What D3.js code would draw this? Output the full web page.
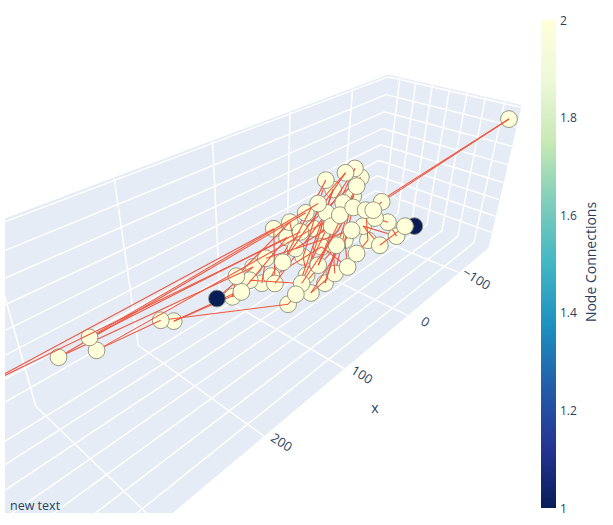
<!DOCTYPE html>
<html><head><meta charset="utf-8">
<script src="https://cdn.jsdelivr.net/npm/d3@7"></script>
<style>html,body{margin:0;padding:0;background:#fff;} svg{display:block;font-family:"Open Sans",Arial,sans-serif;}</style>
</head><body><svg id="chart" width="613" height="525"></svg>
<script>
// ---------------- data ----------------
const nodeX = [18.2,11.0,10.6,31.4,16.2,21.7,45.3,55.9,43.5,30.1,25.7,19.2,14.7,6.7,80.6,75.7,65.7,56.9,45.1,34.6,26.2,1.3,-4.3,9.8,23.0,74.5,58.3,48.9,39.8,72.8,106.2,119.5,98.5,77.2,59.7,49.8,66.8,99.0,83.1,122.0,129.0,138.9,98.4,80.8,180.1,172.6,257.5,257.7,279.3,95.6,16.4,-155,359.4,
               32.5,36.4,68.7,53.0,42.1,86.9,106.7,69.0,28.3,10.1,90.3,112.9];
const nodeY = [5.9,10.5,17.2,3.3,17.4,18.4,-1.7,-6.7,6.7,14.2,22.1,31.0,35.9,38.6,-22.1,-10.7,-3.9,3.1,14.3,28.5,34.6,61.5,67.5,59.3,51.5,-1.7,14.5,23.6,39.2,5.9,-23.0,-30.7,-8.2,14.1,31.7,37.8,18.3,-3.6,13.6,-22.4,-26.6,-36.0,11.6,22.6,-65.1,-56.5,-48.8,-41.4,-60.4,-17.6,39.6,72.5,-2.2,
               -4.4,16.0,-13.9,9.9,27.3,-5.4,-12.1,28.5,42.2,49.2,13.4,-20.8];
const nodeZ = [50.6,53.8,47.2,38.3,40.8,33.4,28.0,21.1,21.1,28.4,25.1,23.1,23.1,29.2,9.3,2.9,7.1,9.6,11.3,8.3,11.3,11.3,11.3,3.9,-2.8,-5.2,-4.0,-2.8,-8.9,-11.4,-18.8,-25.6,-25.6,-24.9,-23.6,-18.8,-17.5,-31.0,-31.0,-37.2,-40.9,-42.1,-46.3,-38.0,-58.1,-58.8,-21.2,-29.5,-33.8,-12.4,17.2,70.3,26.8,
               45.2,19.4,14.2,6.8,0.9,-15.3,-30.8,-30.8,0.9,14.2,-38.9,-28.6];
const edges = [[41,30],[30,48],[48,7],[7,32],[32,45],[45,39],[39,15],[15,46],[46,6],[6,0],[0,58],[58,53],[53,29],[29,33],[33,3],[3,63],[63,1],[1,8],[8,37],[37,14],[14,52],[52,16],[16,2],[2,56],[56,9],[9,36],[36,4],[4,60],[60,27],[27,42],[42,44],[44,47],[47,17],[17,54],[54,5],[5,34],[34,18],[18,25],[25,55],[55,31],[31,40],[40,64],[64,38],[38,10],[10,57],[57,35],[35,26],[26,59],[59,49],[49,19],[19,43],[43,28],[28,61],[61,11],[11,51],[51,13],[13,12],[12,50],[50,62],[62,23],[23,20],[20,24],[24,21],[21,22]];
const xTicks = [-100,0,100,200,300];
const yTicks = [-60,-40,-20,0,20,40,60];
const zTicks = [-60,-40,-20,0,20,40,60,80];
const xRange = [-167,390];
const yRange = [-75,76.8];
const zRange = [-80,81.9];
const colorTicks = [1,1.2,1.4,1.6,1.8,2];
const colorDomain = [1,2];
const ylgnbuStops = [0,0.125,0.25,0.375,0.5,0.625,0.75,0.875,1];
const ylgnbuColors = ["rgb(8,29,88)","rgb(37,52,148)","rgb(34,94,168)","rgb(29,145,192)","rgb(65,182,196)","rgb(127,205,187)","rgb(199,233,180)","rgb(237,248,217)","rgb(255,255,217)"];
const xTitle = "x";
const colorbarTitle = "Node Connections";
const annotationText = "new text";

// ---------------- setup ----------------
const svg = d3.select("#chart");
const textColor = "#2a3f5f";
const scene = {left:5, top:10, right:521, bottom:513};
const camera = {cx:263, cy:264, f:613, yaw:42.9, pitch:32.9, offset:[0.181,-0.0962,1], unit:0.0013};

const xS = d3.scaleLinear().domain(xRange).range([0,(xRange[1]-xRange[0])*camera.unit]);
const yS = d3.scaleLinear().domain(yRange).range([0,(yRange[1]-yRange[0])*camera.unit]);
const zS = d3.scaleLinear().domain(zRange).range([0,(zRange[1]-zRange[0])*camera.unit]);
const rad = Math.PI/180;
const sa = Math.sin(camera.yaw*rad), ca = Math.cos(camera.yaw*rad);
const sp = Math.sin(camera.pitch*rad), cp = Math.cos(camera.pitch*rad);
const e1 = [-sa, ca*sp, -ca*cp], e2 = [ca, sa*sp, -sa*cp], e3 = [0, -cp, -sp];
function project(x,y,z){
  const a = xS(x), b = yS(y), c = zS(z), o = camera.offset;
  const X = o[0]+a*e1[0]+b*e2[0]+c*e3[0];
  const Y = o[1]+a*e1[1]+b*e2[1]+c*e3[1];
  const Z = o[2]+a*e1[2]+b*e2[2]+c*e3[2];
  return [camera.cx + camera.f*X/Z, camera.cy + camera.f*Y/Z, Z];
}

const degree = nodeX.map(()=>0);
edges.forEach(([s,t])=>{degree[s]++;degree[t]++;});
const colorScale = d3.scaleLinear()
  .domain(ylgnbuStops.map(s=>colorDomain[0]+s*(colorDomain[1]-colorDomain[0])))
  .range(ylgnbuColors).interpolate(d3.interpolateRgb);

const defs = svg.append("defs");
defs.append("clipPath").attr("id","sceneClip").append("rect")
  .attr("x",scene.left).attr("y",scene.top)
  .attr("width",scene.right-scene.left).attr("height",scene.bottom-scene.top);

const g = svg.append("g").attr("clip-path","url(#sceneClip)");
const line = d3.line();

// panes
const [x0,x1] = xRange, [y0,y1] = yRange, [z0,z1] = zRange;
const panes = [
  [[x0,y0,z0],[x1,y0,z0],[x1,y0,z1],[x0,y0,z1]],
  [[x0,y0,z0],[x0,y1,z0],[x0,y1,z1],[x0,y0,z1]],
  [[x0,y0,z0],[x1,y0,z0],[x1,y1,z0],[x0,y1,z0]]
];
g.selectAll("path.pane").data(panes).join("path").attr("class","pane")
  .attr("d",p=>line(p.map(q=>project(...q).slice(0,2)))+"Z")
  .attr("fill","#E5ECF6").attr("stroke","#E5ECF6").attr("stroke-width",1);

// grid lines
const grid = [];
xTicks.forEach(v=>{ grid.push([[v,y0,z0],[v,y0,z1]]); grid.push([[v,y0,z0],[v,y1,z0]]); });
yTicks.forEach(v=>{ grid.push([[x0,v,z0],[x0,v,z1]]); grid.push([[x0,v,z0],[x1,v,z0]]); });
zTicks.forEach(v=>{ grid.push([[x0,y0,v],[x1,y0,v]]); grid.push([[x0,y0,v],[x0,y1,v]]); });
g.selectAll("path.grid").data(grid).join("path").attr("class","grid")
  .attr("d",p=>line(p.map(q=>project(...q).slice(0,2))))
  .attr("stroke","#fff").attr("stroke-width",1.5).attr("fill","none");

// nodes and edges, painter's order by depth
const nodes = nodeX.map((x,i)=>{const p=project(x,nodeY[i],nodeZ[i]);return {type:"node",i,sx:p[0],sy:p[1],depth:p[2],deg:degree[i]};});
const items = nodes.concat(edges.map(([s,t])=>({type:"edge",s:nodes[s],t:nodes[t],depth:(nodes[s].depth+nodes[t].depth)/2})));
items.sort((a,b)=>b.depth-a.depth);
const layer = g.append("g");
items.forEach(d=>{
  if(d.type==="edge"){
    layer.append("line").attr("x1",d.s.sx).attr("y1",d.s.sy).attr("x2",d.t.sx).attr("y2",d.t.sy)
      .attr("stroke","#f0553c").attr("stroke-width",1.1);
  } else {
    layer.append("circle").attr("cx",d.sx).attr("cy",d.sy).attr("r",8.4)
      .attr("fill",colorScale(d.deg)).attr("stroke","#8c8c7c").attr("stroke-width",0.9);
  }
});

// x tick labels (only those inside the scene)
const fmt = v => v<0 ? "\u2212"+Math.abs(v) : String(v);
const tickPos = xTicks.map(v=>{const p=project(v,y1,z0);return {v,x:p[0]+18,y:p[1]+6};})
  .filter(d=>d.y < scene.bottom-12 && d.x > scene.left+10);
g.selectAll("text.xtick").data(tickPos).join("text").attr("class","xtick")
  .attr("transform",d=>`translate(${d.x},${d.y}) rotate(32)`)
  .attr("text-anchor","middle").attr("dominant-baseline","central")
  .attr("font-size",13).attr("fill",textColor).text(d=>fmt(d.v));
// x axis title
const xm = (x0+x1)/2, pm = project(xm,y1,z0);
g.append("text").attr("x",pm[0]+39).attr("y",pm[1]+32)
  .attr("text-anchor","middle").attr("dominant-baseline","central")
  .attr("font-size",14).attr("fill",textColor).text(xTitle);

// annotation
svg.append("text").attr("x",10).attr("y",510).attr("font-size",12.5)
  .attr("fill",textColor).text(annotationText);

// colorbar
const cb = {x:541, y:20, w:15, h:488};
const grad = defs.append("linearGradient").attr("id","cbGrad")
  .attr("x1",0).attr("y1",1).attr("x2",0).attr("y2",0);
grad.selectAll("stop").data(ylgnbuStops).join("stop")
  .attr("offset",d=>d).attr("stop-color",(d,i)=>ylgnbuColors[i]);
svg.append("rect").attr("x",cb.x).attr("y",cb.y).attr("width",cb.w).attr("height",cb.h)
  .attr("fill","url(#cbGrad)");
const cbScale = d3.scaleLinear().domain(colorDomain).range([cb.y+cb.h, cb.y]);
svg.selectAll("text.cbtick").data(colorTicks).join("text").attr("class","cbtick")
  .attr("x",cb.x+cb.w+4).attr("y",d=>cbScale(d)).attr("dominant-baseline","central")
  .attr("font-size",12).attr("fill",textColor).text(d=>d3.format("~g")(d));
svg.append("text").attr("transform",`translate(596,262) rotate(-90)`)
  .attr("text-anchor","middle").attr("font-size",14).attr("fill",textColor).text(colorbarTitle);
</script></body></html>
